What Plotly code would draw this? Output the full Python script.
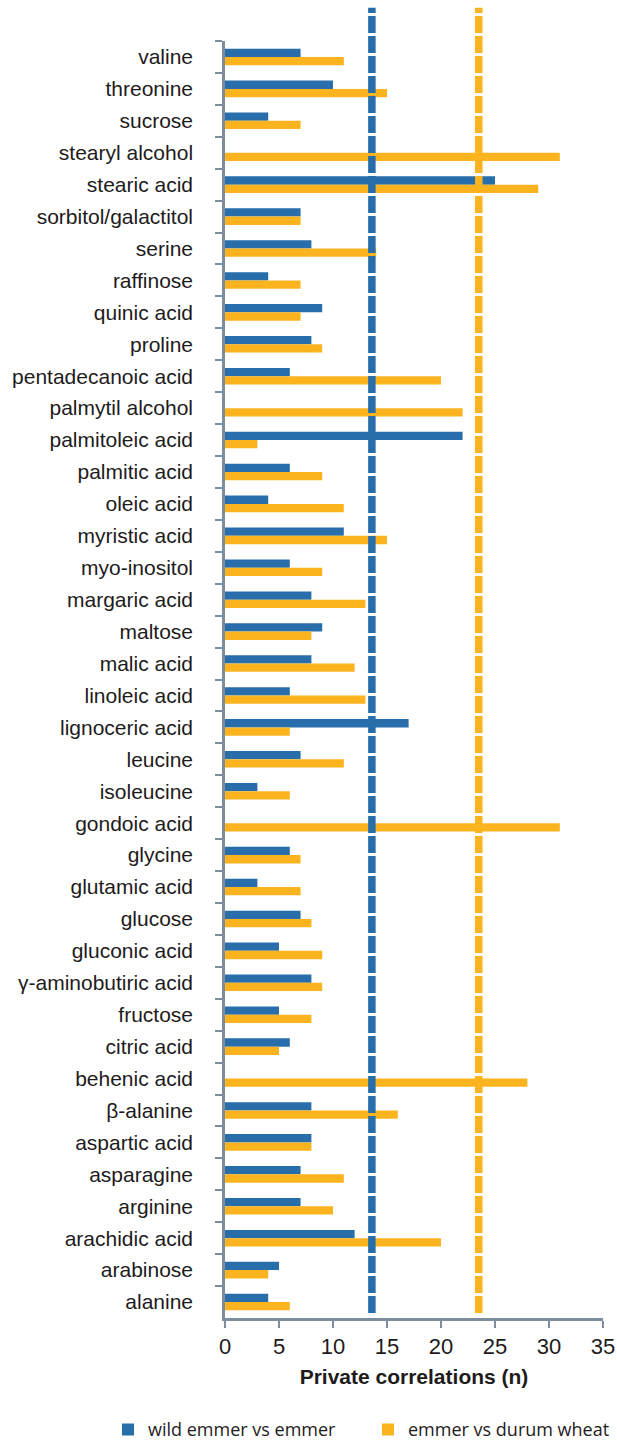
import plotly.graph_objects as go

categories = ["valine", "threonine", "sucrose", "stearyl alcohol", "stearic acid",
              "sorbitol/galactitol", "serine", "raffinose", "quinic acid", "proline",
              "pentadecanoic acid", "palmytil alcohol", "palmitoleic acid", "palmitic acid",
              "oleic acid", "myristic acid", "myo-inositol", "margaric acid", "maltose",
              "malic acid", "linoleic acid", "lignoceric acid", "leucine", "isoleucine",
              "gondoic acid", "glycine", "glutamic acid", "glucose", "gluconic acid",
              "γ-aminobutiric acid", "fructose", "citric acid", "behenic acid", "β-alanine",
              "aspartic acid", "asparagine", "arginine", "arachidic acid", "arabinose", "alanine"]

wild_vs_emmer = [7, 10, 4, 0, 25, 7, 8, 4, 9, 8,
                 6, 0, 22, 6, 4, 11, 6, 8, 9, 8,
                 6, 17, 7, 3, 0, 6, 3, 7, 5, 8,
                 5, 6, 0, 8, 8, 7, 7, 12, 5, 4]

emmer_vs_durum = [11, 15, 7, 31, 29, 7, 14, 7, 7, 9,
                  20, 22, 3, 9, 11, 15, 9, 13, 8, 12,
                  13, 6, 11, 6, 31, 7, 7, 8, 9, 9,
                  8, 5, 28, 16, 8, 11, 10, 20, 4, 6]

threshold_wild_vs_emmer = 13.6
threshold_emmer_vs_durum = 23.5

x_ticks = [0, 5, 10, 15, 20, 25, 30, 35]

BLUE = "#276eaa"
ORANGE = "#fbb41e"
AXIS = "#7d8d9d"
TEXT = "#1e1b1c"

fig = go.Figure()
fig.add_trace(go.Bar(y=categories, x=wild_vs_emmer, orientation="h",
                     name="wild emmer vs emmer", marker=dict(color=BLUE, line=dict(width=0))))
fig.add_trace(go.Bar(y=categories, x=emmer_vs_durum, orientation="h",
                     name="emmer vs durum wheat", marker=dict(color=ORANGE, line=dict(width=0))))

for val, col in [(threshold_wild_vs_emmer, BLUE), (threshold_emmer_vs_durum, ORANGE)]:
    fig.add_shape(type="line", xref="x", yref="paper", x0=val, x1=val, y0=0.004, y1=1.026,
                  line=dict(color=col, width=7.5, dash="17px,3px"), layer="above")

fig.update_layout(
    width=617, height=1441,
    margin=dict(l=225, r=14, t=41, b=123, autoexpand=False),
    paper_bgcolor="white", plot_bgcolor="white",
    barmode="group", bargap=0.48, bargroupgap=0,
    font=dict(family="Liberation Sans, Arial, sans-serif", color=TEXT, size=21),
    showlegend=True,
    legend=dict(orientation="h", xref="paper", yref="paper",
                x=-0.3095, y=-0.0875, xanchor="left", yanchor="middle",
                font=dict(family="Open Sans, sans-serif", size=18, color=TEXT),
                itemsizing="constant", entrywidth=215, entrywidthmode="pixels",
                bgcolor="rgba(0,0,0,0)"),
)

fig.update_xaxes(range=[0, 35], tickvals=x_ticks, ticktext=[str(v) for v in x_ticks],
                 showgrid=False, zeroline=False, automargin=False,
                 showline=True, linecolor=AXIS, linewidth=2.5,
                 ticks="outside", ticklen=7, tickwidth=2, tickcolor=AXIS,
                 tickfont=dict(size=22, color=TEXT), ticklabelstandoff=0,
                 title=dict(text="<b>Private correlations (n)</b>", font=dict(size=21, color=TEXT),
                            standoff=12))

fig.update_yaxes(type="category", categoryorder="array", categoryarray=categories,
                 autorange="reversed", showgrid=False, zeroline=False, automargin=False,
                 showline=True, linecolor=AXIS, linewidth=2.5,
                 ticks="outside", tickson="boundaries", ticklen=7, tickwidth=2, tickcolor=AXIS,
                 tickfont=dict(size=21, color=TEXT), ticklabelstandoff=25)

# remove the default page margin so the 617x1441 figure fills the window exactly
page_css = ("document.body.style.margin='0';"
            "document.documentElement.style.overflow='hidden';"
            "document.body.style.overflow='hidden';")

fig.write_html("out.html", post_script=page_css,
               config={"displayModeBar": False, "staticPlot": False})
